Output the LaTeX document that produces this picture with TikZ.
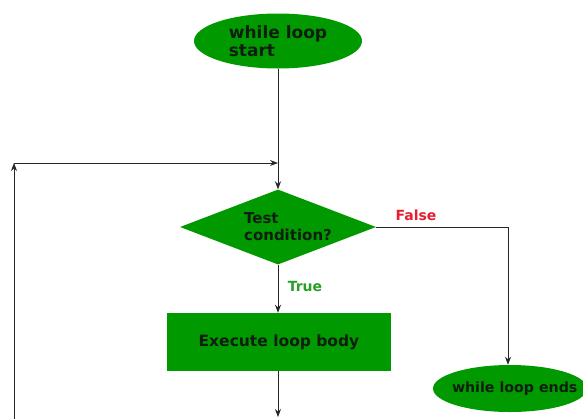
\documentclass[tikz,border=0pt]{standalone}
\usepackage{fontspec}
\setmainfont{DejaVu Sans}
\usetikzlibrary{shapes.geometric,arrows.meta}
\definecolor{boxgreen}{RGB}{0,153,0}
\definecolor{falsered}{RGB}{230,30,50}
\definecolor{truegreen}{RGB}{40,160,40}
\definecolor{txtdark}{RGB}{15,30,15}
\tikzset{
  terminal/.style={ellipse, fill=boxgreen, inner sep=0pt, text=txtdark, font=\bfseries},
  decision/.style={diamond, fill=boxgreen, inner sep=0pt},
  process/.style={rectangle, fill=boxgreen, inner sep=0pt, text=txtdark, font=\bfseries\fontsize{15.5}{18}\selectfont},
  flow/.style={draw=black!85, line width=0.9pt, -{Stealth[length=8pt,width=6pt]}},
  plain/.style={draw=black!85, line width=0.9pt}
}
\begin{document}
\begin{tikzpicture}[x=1pt,y=-1pt]
  \clip (0,0) rectangle (583,418);
  \fill[white] (0,0) rectangle (583,418);

  % flowchart nodes
  \node[terminal, minimum width=168pt, minimum height=55pt, align=left,
        font=\bfseries\fontsize{17}{18.5}\selectfont] (start) at (278,41) {while loop\\start};
  \node[decision, minimum width=196pt, minimum height=75pt] (test) at (278,227) {};
  \node[text=txtdark, align=left, font=\bfseries\fontsize{15}{17}\selectfont] (testtxt) at (288,226.5) {Test\\condition?};
  \node[process, minimum width=224pt, minimum height=58pt] (body) at (279,342) {Execute loop body};
  % end terminal: fixed size, runs past the right edge
  \node[terminal, minimum width=154pt, minimum height=47pt,
        font=\bfseries\fontsize{14.2}{17}\selectfont] (stop) at (510,388.5)
        {\makebox[0pt][l]{\hspace*{-58pt}while loop ends}};

  % branch labels
  \node[text=falsered, font=\bfseries\fontsize{14}{16}\selectfont] (lfalse) at (416,215) {False};
  \node[text=truegreen, font=\bfseries\fontsize{14}{16}\selectfont] (ltrue) at (305,286) {True};

  % routing points
  \coordinate (join) at (278,163);
  \coordinate (loopbot) at (14,420);
  \coordinate (loopcorner) at (14,163);
  \coordinate (falsecorner) at (508,227);
  \coordinate (bodyout) at (278,417);

  % connectors
  \draw[flow] (start.south) -- (test.north);
  \draw[flow] (loopbot) -- (loopcorner);
  \draw[flow] (loopcorner) -- (join);
  \draw[flow] (test.east) -- (falsecorner) -- (falsecorner |- stop.north);
  \draw[flow] (test.south) -- (test.south |- body.north);
  \draw[flow] (body.south -| test.south) -- (bodyout);
\end{tikzpicture}
\end{document}
